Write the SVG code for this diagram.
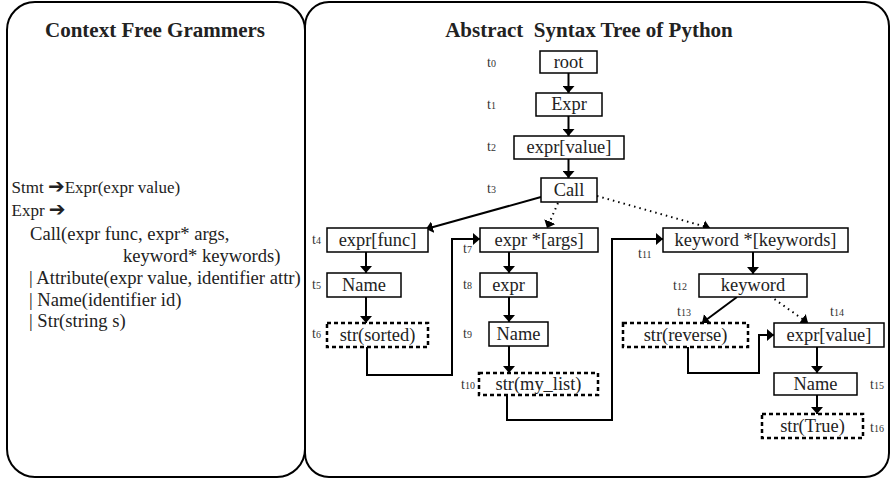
<svg xmlns="http://www.w3.org/2000/svg" width="891" height="480" viewBox="0 0 891 480">
<defs>
<marker id="ah" viewBox="0 0 7 12" refX="7" refY="6" markerWidth="7" markerHeight="12" markerUnits="userSpaceOnUse" orient="auto"><path d="M0 0 L7 6 L0 12 z" fill="#000"/></marker>
<style>
.panel{fill:#fff;stroke:#000;stroke-width:2}
.box{fill:#fff;stroke:#000;stroke-width:1.5}
.dbox{fill:#fff;stroke:#000;stroke-width:2.5;stroke-dasharray:4 3}
.lbl{font-family:'Liberation Serif','DejaVu Serif',serif;font-size:18.4px;fill:#222;text-anchor:middle}
.t{font-family:'Liberation Serif','DejaVu Serif',serif;font-size:14px;fill:#333}
.t tspan{font-size:10px}
.title{font-family:'Liberation Serif','DejaVu Serif',serif;font-size:21px;font-weight:bold;fill:#222;text-anchor:middle}
.g{font-family:'Liberation Serif','DejaVu Serif',serif;font-size:18.6px;fill:#222}
.g1{font-size:17px}
.ar{font-family:'DejaVu Sans',sans-serif;font-size:20px}
.c{fill:none;stroke:#000;stroke-width:2;marker-end:url(#ah)}
.d{fill:none;stroke:#000;stroke-width:2;stroke-dasharray:1.5 4;marker-end:url(#ah)}
</style>
</defs>
<g id="panels">
<rect class="panel" x="7" y="2" width="298" height="475" rx="28"/>
<rect class="panel" x="305" y="2" width="584" height="475" rx="24"/>
<text class="title" x="155" y="37">Context Free Grammers</text>
<text class="title" x="589" y="37" xml:space="preserve">Abstract  Syntax Tree of Python</text>
</g>
<g id="grammar" class="g">
<text class="g1" x="11.5" y="193">Stmt <tspan class="ar">➔</tspan>Expr(expr value)</text>
<text class="g1" x="11.5" y="216">Expr <tspan class="ar">➔</tspan></text>
<text x="30" y="240">Call(expr func, expr* args,</text>
<text x="123" y="262">keyword* keywords)</text>
<text x="29" y="284">| Attribute(expr value, identifier attr)</text>
<text x="29" y="306">| Name(identifier id)</text>
<text x="29" y="327">| Str(string s)</text>
</g>
<g id="connectors">
<path class="c" d="M568.5 73 V93"/>
<path class="c" d="M568.5 116 V136"/>
<path class="c" d="M568.5 159 V178"/>
<path class="c" d="M541 197 L426 229"/>
<path class="d" d="M558 203 L547 228"/>
<path class="d" d="M597 196 L710 228"/>
<path class="c" d="M366 252 V273"/>
<path class="c" d="M366 297 V323"/>
<path class="c" d="M367 347 V375 H452 V239 H480"/>
<path class="c" d="M509 252 V273"/>
<path class="c" d="M509 297 V322"/>
<path class="c" d="M509 346 V373"/>
<path class="c" d="M507 395 V420 H612 V239 H663"/>
<path class="c" d="M753 252 V274"/>
<path class="c" d="M737 297 L702 323"/>
<path class="d" d="M770 296 L808 323"/>
<path class="c" d="M688 347 V373 H759 V335 H774"/>
<path class="c" d="M817 347 V373"/>
<path class="c" d="M817 395 V414"/>
</g>
<g id="n0"><rect class="box" x="540" y="51" width="57" height="22"/><text class="lbl" x="568.5" y="68">root</text><text class="t" x="487" y="67">t<tspan>0</tspan></text></g>
<g id="n1"><rect class="box" x="536" y="93" width="66" height="23"/><text class="lbl" x="569" y="110">Expr</text><text class="t" x="487" y="109">t<tspan>1</tspan></text></g>
<g id="n2"><rect class="box" x="514" y="136" width="110" height="23"/><text class="lbl" x="569" y="153">expr[value]</text><text class="t" x="487" y="151">t<tspan>2</tspan></text></g>
<g id="n3"><rect class="box" x="541" y="178" width="56" height="24"/><text class="lbl" x="569" y="196">Call</text><text class="t" x="487" y="193">t<tspan>3</tspan></text></g>
<g id="n4"><rect class="box" x="327" y="228" width="101" height="24"/><text class="lbl" x="377.5" y="246">expr[func]</text><text class="t" x="312" y="244">t<tspan>4</tspan></text></g>
<g id="n5"><rect class="box" x="327" y="273" width="74" height="24"/><text class="lbl" x="364" y="291">Name</text><text class="t" x="312" y="289">t<tspan>5</tspan></text></g>
<g id="n6"><rect class="dbox" x="327" y="323" width="101" height="24"/><text class="lbl" x="377.5" y="341">str(sorted)</text><text class="t" x="312" y="338">t<tspan>6</tspan></text></g>
<g id="n7"><rect class="box" x="480" y="228" width="118" height="24"/><text class="lbl" x="539" y="246">expr *[args]</text><text class="t" x="463" y="253">t<tspan>7</tspan></text></g>
<g id="n8"><rect class="box" x="480" y="273" width="57" height="24"/><text class="lbl" x="508.5" y="291">expr</text><text class="t" x="463" y="289">t<tspan>8</tspan></text></g>
<g id="n9"><rect class="box" x="489" y="322" width="59" height="24"/><text class="lbl" x="518.5" y="340">Name</text><text class="t" x="463" y="338">t<tspan>9</tspan></text></g>
<g id="n10"><rect class="dbox" x="479" y="373" width="119" height="22"/><text class="lbl" x="538.5" y="390">str(my_list)</text><text class="t" x="461" y="389">t<tspan>10</tspan></text></g>
<g id="n11"><rect class="box" x="663" y="228" width="185" height="24"/><text class="lbl" x="755.5" y="246">keyword *[keywords]</text><text class="t" x="638" y="258">t<tspan>11</tspan></text></g>
<g id="n12"><rect class="box" x="699" y="274" width="108" height="23"/><text class="lbl" x="753" y="291">keyword</text><text class="t" x="673" y="290">t<tspan>12</tspan></text></g>
<g id="n13"><rect class="dbox" x="623" y="323" width="125" height="24"/><text class="lbl" x="685.5" y="341">str(reverse)</text><text class="t" x="677" y="316">t<tspan>13</tspan></text></g>
<g id="n14"><rect class="box" x="774" y="323" width="110" height="24"/><text class="lbl" x="829" y="341">expr[value]</text><text class="t" x="830" y="316">t<tspan>14</tspan></text></g>
<g id="n15"><rect class="box" x="774" y="373" width="83" height="22"/><text class="lbl" x="815.5" y="390">Name</text><text class="t" x="870" y="389">t<tspan>15</tspan></text></g>
<g id="n16"><rect class="dbox" x="762" y="414" width="101" height="24"/><text class="lbl" x="812.5" y="432">str(True)</text><text class="t" x="870" y="432">t<tspan>16</tspan></text></g>
</svg>
